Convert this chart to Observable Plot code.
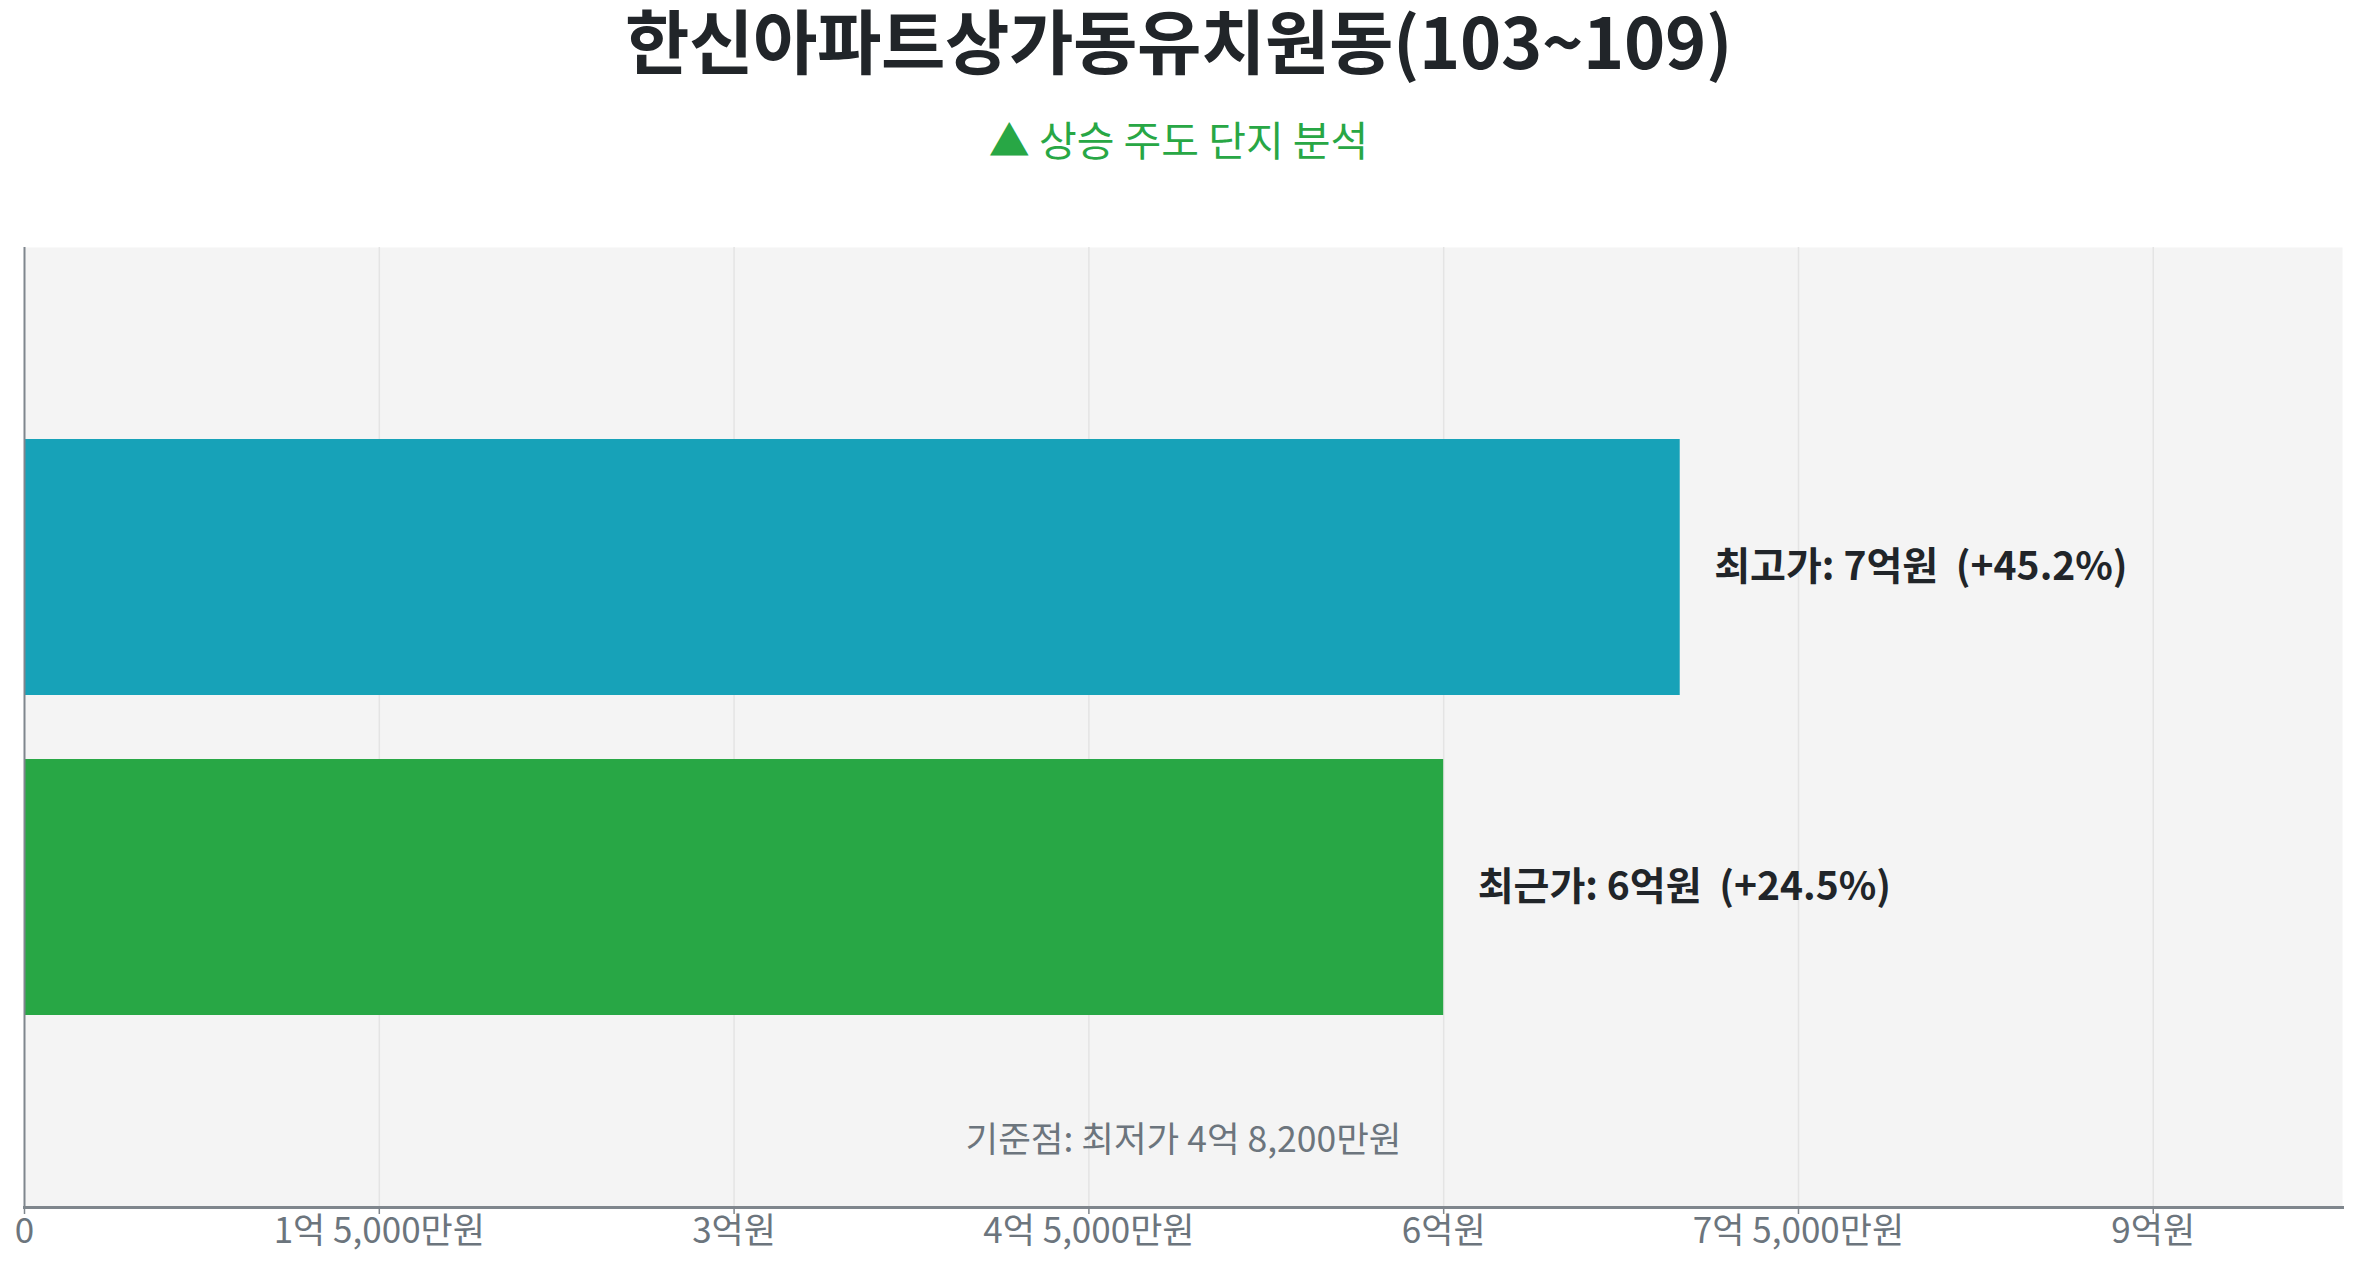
<!DOCTYPE html>
<html>
<head>
<meta charset="utf-8">
<script src="https://cdn.jsdelivr.net/npm/d3@7"></script>
<script src="https://cdn.jsdelivr.net/npm/@observablehq/plot@0.6"></script>
<style>
  @font-face {
    font-family: "TitleKR";
    src: local("Noto Sans CJK KR Bold"), local("NotoSansCJKkr-Bold");
    font-weight: 700;
    ascent-override: 95%;
    descent-override: 25%;
    line-gap-override: 0%;
  }
  html, body { margin: 0; padding: 0; background: #ffffff; }
  body { width: 2357px; height: 1269px; position: relative; overflow: hidden;
         font-family: "Noto Sans CJK KR", "Noto Sans", sans-serif; }
  #title { position: absolute; left: 0; width: 2357px; top: 9px; text-align: center;
           font-family: "TitleKR", "Noto Sans CJK KR", sans-serif;
           font-size: 70px; font-weight: 700; line-height: 72px; color: #212529; }
  #subtitle { position: absolute; left: 0; width: 2357px; top: 115px; text-align: center;
              font-size: 41px; font-weight: 400; line-height: 46px; color: #28a745; }
  #chart { position: absolute; left: 0; top: 180px; }
</style>
</head>
<body>
<div id="title"></div>
<div id="subtitle"></div>
<div id="chart"></div>
<script>
// ---- data ----
const titleText = "한신아파트상가동유치원동(103~109)";
const subtitleText = "▲ 상승 주도 단지 분석";
const categories = ["최고가", "최근가"];
const valuesEok = [7.0, 6.0];              // 억원
const changePct = ["+45.2%", "+24.5%"];
const valueLabels = ["7억원", "6억원"];
const barColors = ["#17a2b8", "#28a745"];
const baseLabel = "기준점: 최저가 4억 8,200만원";
const tickValues = [0, 1.5, 3, 4.5, 6, 7.5, 9];
const tickLabels = ["0", "1억 5,000만원", "3억원", "4억 5,000만원", "6억원", "7억 5,000만원", "9억원"];
const xMax = 9.8;

document.getElementById("title").textContent = titleText;
document.getElementById("subtitle").textContent = subtitleText;

const rows = categories.map((c, i) => ({
  cat: c,
  value: valuesEok[i],
  color: barColors[i],
  label: `${c}: ${valueLabels[i]}\u00a0 (${changePct[i]})`
}));

const tickMap = new Map(tickValues.map((v, i) => [v, tickLabels[i]]));

const chart = Plot.plot({
  width: 2357,
  height: 1089,
  marginLeft: 24,
  marginRight: 15,
  marginTop: 67,
  marginBottom: 62,
  style: { fontFamily: "'Noto Sans CJK KR', 'Noto Sans', sans-serif", background: "transparent" },
  x: { domain: [0, xMax], axis: null },
  y: { domain: categories, paddingInner: 0.2, paddingOuter: 0.6, axis: null },
  marks: [
    Plot.frame({ fill: "#f4f4f4", stroke: null }),
    Plot.ruleX(tickValues.slice(1), { stroke: "#e4e4e4", strokeWidth: 1.5 }),
    Plot.barX(rows, { x: "value", y: "cat", fill: "color" }),
    Plot.text(rows, { x: "value", y: "cat", text: "label", dx: 34, textAnchor: "start",
                      fontSize: 39, fontWeight: 700, fill: "#212529" }),
    Plot.text([baseLabel], { frameAnchor: "bottom", dy: -67, lineAnchor: "middle",
                             fontSize: 35.5, fill: "#6c757d" }),
    Plot.ruleX([0], { stroke: "#7f868d", strokeWidth: 2 }),
    Plot.frame({ anchor: "bottom", stroke: "#7f868d", strokeWidth: 3 }),
    Plot.axisX(tickValues, { anchor: "bottom", tickSize: 7, tickPadding: 4, stroke: "#7f868d",
                             strokeWidth: 1.5, fontSize: 35, fill: "#6c757d",
                             tickFormat: d => tickMap.get(d), label: null })
  ]
});
document.getElementById("chart").appendChild(chart);
</script>
</body>
</html>
